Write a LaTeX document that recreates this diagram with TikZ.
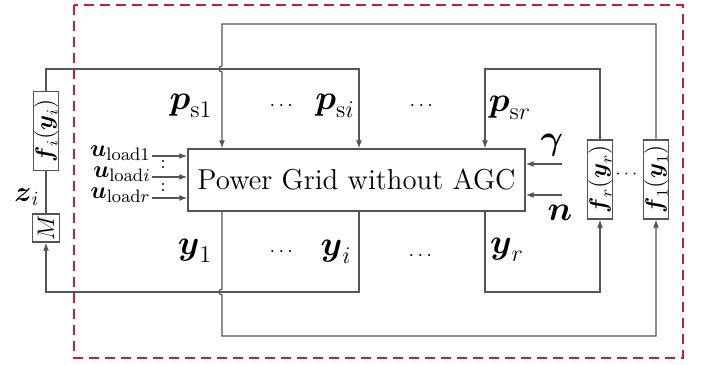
\documentclass[tikz,border=0pt]{standalone}
\usepackage{amsmath,amssymb}
\usepackage{xcolor}
\usepackage{tikz}
\usetikzlibrary{arrows.meta,positioning}
\definecolor{wirec}{HTML}{555555}
\definecolor{boundc}{HTML}{C8202A}
\definecolor{dotc}{HTML}{6B3A3A}
\tikzset{
  wire/.style={wirec,line width=0.6pt},
  ar/.style={-{Latex[length=4pt,width=3pt]},wire},
  box/.style={draw=wirec,line width=0.7pt,inner sep=0pt},
  fbox/.style={box,minimum width=12.5pt,minimum height=39.5pt,font=\large},
  lbl/.style={font=\LARGE,inner sep=1pt}
}
\newcommand{\bv}[1]{\boldsymbol{#1}}

\begin{document}
\begin{tikzpicture}[x=0.5pt,y=-0.5pt]
\useasboundingbox (0,0) rectangle (710,364);
\draw[boundc,line width=1pt,dash pattern=on 5pt off 3pt] (74,5) rectangle (683,358);
\node[box,minimum width=168.5pt,minimum height=31pt,font=\Large] (grid) at (356.5,180) {Power Grid without AGC};
\node[fbox] (fi) at (46,131) {\rotatebox{90}{$\bv{f}_i(\bv{y}_i)$}};
\node[box,minimum width=13.5pt,minimum height=14pt,font=\large] (M) at (46,228) {\rotatebox{90}{$M$}};
\node[fbox] (fr) at (600,179.5) {\rotatebox{90}{$\bv{f}_r(\bv{y}_r)$}};
\node[fbox] (f1) at (656,179.5) {\rotatebox{90}{$\bv{f}_1(\bv{y}_1)$}};
\node[font=\small] (d5) at (628,174) {$\cdots$};
\coordinate (t1) at (222,24);
\coordinate (ti) at (359,69);
\coordinate (tr) at (485,69);
\coordinate (b1) at (222,336);
\coordinate (bi) at (359,292);
\coordinate (br) at (485,292);
\draw[ar] (fi.north) |- (ti) -- (ti |- grid.north);
\draw[ar] (fr.north) |- (tr) -- (tr |- grid.north);
\draw[ar] (f1.north) |- (t1) -- (222,66) .. controls (218,66) and (218,72) .. (222,72) -- (t1 |- grid.north);
\draw[ar] (ti |- grid.south) -- (bi) -| (M.south);
\draw[ar] (tr |- grid.south) -- (br) -| (fr.south);
\draw[ar] (t1 |- grid.south) -- (222,289) .. controls (218,289) and (218,295) .. (222,295) -- (b1) -| (f1.south);
\draw[wire] (fi.south) -- (M.north);
\node[font=\Large] (zi) at (27,197) {$\bv{z}_i$};
\node[lbl] (ps1) at (191,106) {$\bv{p}_{\mathrm{s}1}$};
\node (d1) at (283,106) {$\cdots$};
\node[lbl] (psi) at (335,106) {$\bv{p}_{\mathrm{s}i}$};
\node (d2) at (423,106) {$\cdots$};
\node[lbl] (psr) at (510,108) {$\bv{p}_{\mathrm{s}r}$};
\node[lbl] (y1) at (195,251) {$\bv{y}_1$};
\node (d3) at (283,252) {$\cdots$};
\node[lbl] (yi) at (336,252) {$\bv{y}_i$};
\node (d4) at (422,256) {$\cdots$};
\node[lbl] (yr) at (507,250) {$\bv{y}_r$};
\coordinate (ga) at (562,164);
\coordinate (na) at (562,195);
\draw[ar] (ga) -- (ga -| grid.east);
\draw[ar] (na) -- (na -| grid.east);
\node[lbl] (gam) at (552,145) {$\bv{\gamma}$};
\node[lbl] (nn) at (560,213) {$\bv{n}$};
\foreach \k/\s/\yy in {1/1/156,2/i/177,3/r/198}{
  \coordinate (ua\k) at (152,\yy);
  \node[font=\fontsize{12.5}{14}\selectfont,anchor=east,inner sep=0pt] (u\k) at (151,{\yy-3}) {$\bv{u}_{\mathrm{load}\s}$};
  \draw[ar] (ua\k) -- (ua\k -| grid.west);
}
\draw[dotc,line width=1pt,dash pattern=on 1pt off 2pt] (163,160) -- (163,171);
\draw[dotc,line width=1pt,dash pattern=on 1pt off 2pt] (163,183) -- (163,193);
\end{tikzpicture}
\end{document}
